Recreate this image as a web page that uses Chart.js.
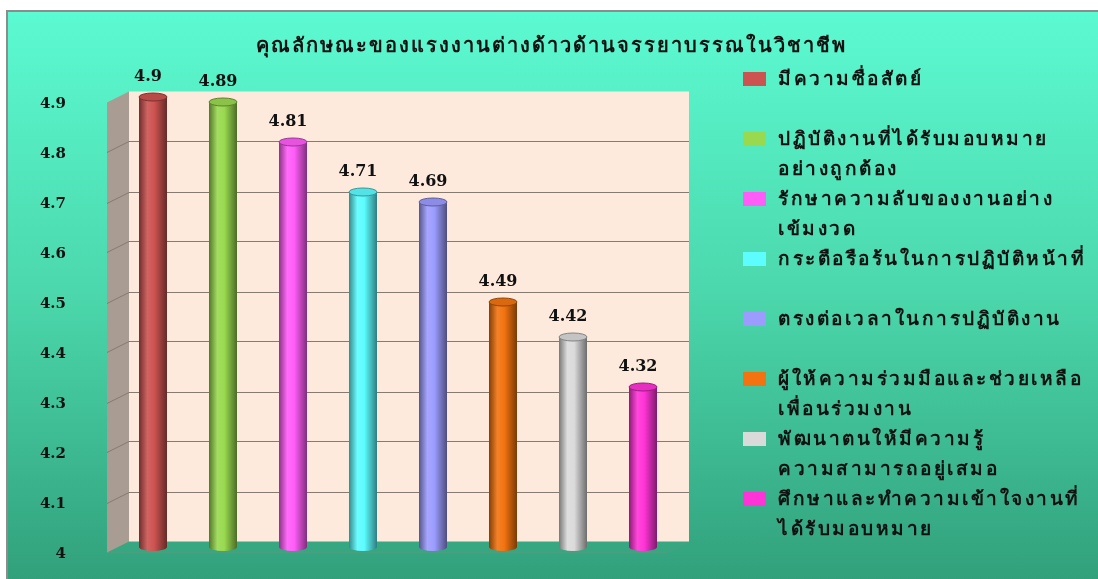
<!DOCTYPE html>
<html>
<head>
<meta charset="utf-8">
<script src="https://cdn.jsdelivr.net/npm/chart.js"></script>
<style>
  html, body { margin: 0; padding: 0; width: 1098px; height: 579px; overflow: hidden; background: #fff; }
  #frame {
    position: absolute; left: 6px; top: 10px; width: 1092px; height: 569px;
    border-left: 2px solid #8c8c8c; border-top: 2px solid #8c8c8c;
    background: linear-gradient(to bottom, #5cfad2 0%, #4bd7ab 50%, #31a07b 100%);
  }
  #chart { position: absolute; left: 0; top: 0; }
  #title {
    position: absolute; left: 0; top: 29px; width: 1102px; text-align: center;
    font: bold 20px "DejaVu Serif", serif; letter-spacing: 2px; color: #111; white-space: nowrap;
  }
  #legend { position: absolute; left: 743px; top: 63px; font: bold 19px "DejaVu Serif", serif; letter-spacing: 2.5px; color: #111; }
  .item { position: relative; height: 60px; }
  .item .box { position: absolute; left: 0; top: 9px; width: 23px; height: 14px; }
  .item .txt { position: absolute; left: 35px; top: 0; line-height: 30px; white-space: nowrap; }
</style>
</head>
<body>
<div id="frame"></div>
<canvas id="chart" width="1098" height="579"></canvas>
<div id="title"></div>
<div id="legend"></div>
<script>
var chartTitle = "คุณลักษณะของแรงงานต่างด้าวด้านจรรยาบรรณในวิชาชีพ";

// each category is split into the lines it is printed on in the legend
var categories = [
  ["มีความซื่อสัตย์"],
  ["ปฏิบัติงานที่ได้รับมอบหมาย", "อย่างถูกต้อง"],
  ["รักษาความลับของงานอย่าง", "เข้มงวด"],
  ["กระตือรือร้นในการปฏิบัติหน้าที่"],
  ["ตรงต่อเวลาในการปฏิบัติงาน"],
  ["ผู้ให้ความร่วมมือและช่วยเหลือ", "เพื่อนร่วมงาน"],
  ["พัฒนาตนให้มีความรู้", "ความสามารถอยู่เสมอ"],
  ["ศึกษาและทำความเข้าใจงานที่", "ได้รับมอบหมาย"]
];
var scores = [4.9, 4.89, 4.81, 4.71, 4.69, 4.49, 4.42, 4.32];
var yMin = 4;
var yMax = 4.9;
var yStep = 0.1;

var barColors = ["#cc5350", "#99d94f", "#ff5cf8", "#5cfcff", "#9c9cff", "#f2730f", "#dadada", "#ff33d6"];

var DX = 11, DY = 5.5;   // half depth of the 3d box
var numFont = 'bold 16px "DejaVu Serif", serif';

document.getElementById("title").textContent = chartTitle;

var legend = document.getElementById("legend");
categories.forEach(function (lines, i) {
  var item = document.createElement("div");
  item.className = "item";
  var box = document.createElement("div");
  box.className = "box";
  box.style.background = barColors[i];
  var txt = document.createElement("div");
  txt.className = "txt";
  txt.innerHTML = lines.join("<br>");
  item.appendChild(box);
  item.appendChild(txt);
  legend.appendChild(item);
});

function shade(hex, f) {
  var n = parseInt(hex.slice(1), 16);
  var r = (n >> 16) & 255, g = (n >> 8) & 255, b = n & 255;
  function ch(c) {
    var v = f < 0 ? c * (1 + f) : c + (255 - c) * f;
    return Math.round(Math.max(0, Math.min(255, v)));
  }
  return "rgb(" + ch(r) + "," + ch(g) + "," + ch(b) + ")";
}

// back wall, side wall, grid lines and floor
var boxPlugin = {
  id: "box3d",
  beforeDatasetsDraw: function (chart) {
    var ctx = chart.ctx, a = chart.chartArea, ys = chart.scales.y;
    ctx.save();
    // floor
    ctx.beginPath();
    ctx.moveTo(a.left - DX, a.bottom + DY);
    ctx.lineTo(a.left + DX, a.bottom - DY);
    ctx.lineTo(a.right + DX, a.bottom - DY);
    ctx.lineTo(a.right - DX, a.bottom + DY);
    ctx.closePath();
    ctx.fillStyle = "rgba(60,170,130,0.25)";
    ctx.fill();
    ctx.strokeStyle = "rgba(110,150,130,0.4)";
    ctx.lineWidth = 1;
    ctx.stroke();
    // side wall
    ctx.beginPath();
    ctx.moveTo(a.left - DX, a.top + DY);
    ctx.lineTo(a.left + DX, a.top - DY);
    ctx.lineTo(a.left + DX, a.bottom - DY);
    ctx.lineTo(a.left - DX, a.bottom + DY);
    ctx.closePath();
    ctx.fillStyle = "#a99c93";
    ctx.fill();
    // back wall
    ctx.fillStyle = "#fdeadc";
    ctx.fillRect(a.left + DX, a.top - DY, a.right - a.left, a.bottom - a.top);
    // grid lines
    ctx.strokeStyle = "#877a71";
    ctx.lineWidth = 1;
    ys.ticks.forEach(function (t) {
      if (t.value <= yMin + 1e-9 || t.value >= yMax - 1e-9) return;
      var y = Math.round(ys.getPixelForValue(t.value) - DY) + 0.5;
      ctx.beginPath();
      ctx.moveTo(a.left - DX, y + 2 * DY);
      ctx.lineTo(a.left + DX, y);
      ctx.lineTo(a.right + DX, y);
      ctx.stroke();
    });
    ctx.restore();
  },
  // cylinders over the flat bars, then the value labels
  afterDatasetsDraw: function (chart) {
    var ctx = chart.ctx;
    var meta = chart.getDatasetMeta(0);
    ctx.save();
    meta.data.forEach(function (bar, i) {
      var c = barColors[i];
      var w = bar.width, x0 = bar.x - w / 2, x1 = bar.x + w / 2;
      var ry = 4;
      var g = ctx.createLinearGradient(x0, 0, x1, 0);
      g.addColorStop(0, shade(c, -0.45));
      g.addColorStop(0.3, shade(c, 0.1));
      g.addColorStop(0.55, c);
      g.addColorStop(1, shade(c, -0.5));
      ctx.fillStyle = g;
      ctx.beginPath();
      ctx.ellipse(bar.x, bar.base, w / 2, ry, 0, 0, Math.PI * 2);
      ctx.fill();
      ctx.fillRect(x0, bar.y, w, bar.base - bar.y);
      ctx.beginPath();
      ctx.ellipse(bar.x, bar.y, w / 2, ry, 0, 0, Math.PI * 2);
      ctx.fillStyle = shade(c, -0.1);
      ctx.fill();
      ctx.strokeStyle = shade(c, -0.4);
      ctx.lineWidth = 1;
      ctx.stroke();

      ctx.fillStyle = "#111";
      ctx.font = numFont;
      ctx.textAlign = "center";
      ctx.textBaseline = "middle";
      ctx.fillText(String(scores[i]), bar.x - 5, bar.y - 20);
    });
    ctx.restore();
  }
};

var myChart = new Chart(document.getElementById("chart").getContext("2d"), {
  type: "bar",
  data: {
    labels: categories,
    datasets: [{
      data: scores,
      base: yMin,
      backgroundColor: barColors,
      borderWidth: 0,
      categoryPercentage: 1,
      barPercentage: 0.4
    }]
  },
  options: {
    responsive: false,
    animation: false,
    layout: { padding: { top: 97, bottom: 32, left: 0, right: 420 } },
    plugins: { legend: { display: false }, tooltip: { enabled: false } },
    scales: {
      x: { display: false },
      y: {
        min: yMin,
        max: yMax,
        grid: { display: false, drawTicks: true, tickLength: 48 },
        border: { display: false },
        ticks: {
          stepSize: yStep,
          padding: 4,
          labelOffset: 7,
          color: "#111",
          font: { family: '"DejaVu Serif", serif', size: 15, weight: "bold" },
          callback: function (v) { return String(+v.toFixed(1)); }
        },
        afterFit: function (scale) { scale.width = 118; }
      }
    }
  },
  plugins: [boxPlugin]
});
</script>
</body>
</html>
